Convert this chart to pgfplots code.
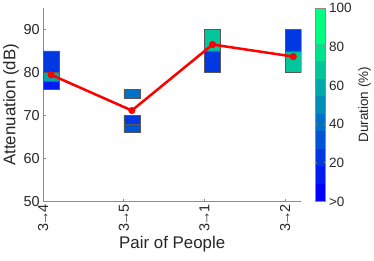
\documentclass[border=0pt]{standalone}
\usepackage{fontspec}
\setmainfont{Liberation Sans}
\usepackage{pgfplots}
\pgfplotsset{compat=1.18}
\definecolor{k0}{rgb}{0,0,1}
\definecolor{k1}{rgb}{0,0.1111,0.9444}
\definecolor{k2}{rgb}{0,0.2222,0.8889}
\definecolor{k3}{rgb}{0,0.3333,0.8333}
\definecolor{k4}{rgb}{0,0.4444,0.7778}
\definecolor{k5}{rgb}{0,0.5556,0.7222}
\definecolor{k6}{rgb}{0,0.6667,0.6667}
\definecolor{k7}{rgb}{0,0.7778,0.6111}
\definecolor{k8}{rgb}{0,0.8889,0.5556}
\definecolor{k9}{rgb}{0,1,0.5}
\definecolor{txt}{rgb}{0.15,0.15,0.15}
\definecolor{axc}{rgb}{0.55,0.55,0.55}
\definecolor{edge}{rgb}{0.35,0.35,0.35}
\newcommand\arr{\kern-1.8bp→\kern-1.8bp}
\pgfplotsset{
  colormap={winterd}{rgb=(0,0,1) rgb=(0,0.1111,0.9444) rgb=(0,0.2222,0.8889)
    rgb=(0,0.3333,0.8333) rgb=(0,0.4444,0.7778) rgb=(0,0.5556,0.7222)
    rgb=(0,0.6667,0.6667) rgb=(0,0.7778,0.6111) rgb=(0,0.8889,0.5556)
    rgb=(0,1,0.5) rgb=(0,1,0.5)},
  seg/.style={fill=#1, draw=edge, line width=0.5bp, mark=none, forget plot}
}
\begin{document}
\begin{tikzpicture}
\begin{axis}[
  name=main,
  scale only axis, width=267bp, height=200bp,
  xmin=1, xmax=4.2, ymin=50, ymax=95,
  axis x line*=bottom, axis y line*=left,
  axis line style={axc, line width=0.6bp, -},
  xtick={1,2,3,4},
  xticklabels={3\arr4,3\arr5,3\arr1,3\arr2},
  x tick label style={rotate=90, anchor=east},
  ytick={50,60,70,80,90},
  /pgf/number format/assume math mode=true,
  tick align=inside, major tick length=3bp,
  tick style={axc, line width=0.6bp},
  ticklabel style={font=\fontsize{15}{15}\selectfont, text=txt},
  label style={font=\fontsize{17.5}{17.5}\selectfont, text=txt},
  xlabel={Pair of People}, ylabel={Attenuation (dB)},
  xlabel style={yshift=2bp},
  ylabel style={yshift=-2bp},
  colorbar, colormap name=winterd, colormap access=piecewise constant,
  point meta min=0, point meta max=100,
  colorbar style={
    width=10.7bp, at={(main.north east)}, anchor=north west, xshift=6bp,
    /pgf/number format/assume math mode=true,
    ytick={0,20,40,60,80,100}, yticklabels={{>0},20,40,60,80,100},
    yticklabel style={font=\fontsize{14}{14}\selectfont, text=txt},
    ylabel={Duration (\%)},
    ylabel style={font=\fontsize{14}{14}\selectfont, text=txt},
    axis line style={axc, line width=0.6bp},
    tick style={axc, line width=0.6bp}, major tick length=2bp,
  },
]
% 3->4
\addplot[seg=k2] coordinates {(1,80) (1.2,80) (1.2,85) (1,85) (1,80)};
\addplot[seg=k6] coordinates {(1,78) (1.2,78) (1.2,80) (1,80) (1,78)};
\addplot[seg=k1] coordinates {(1,76) (1.2,76) (1.2,78) (1,78) (1,76)};
% 3->5
\addplot[seg=k4] coordinates {(2,74) (2.2,74) (2.2,76) (2,76) (2,74)};
\addplot[seg=k2] coordinates {(2,68) (2.2,68) (2.2,70) (2,70) (2,68)};
\addplot[seg=k3] coordinates {(2,66) (2.2,66) (2.2,68) (2,68) (2,66)};
% 3->1
\addplot[seg=k7] coordinates {(3,85) (3.2,85) (3.2,90) (3,90) (3,85)};
\addplot[seg=k2] coordinates {(3,80) (3.2,80) (3.2,85) (3,85) (3,80)};
% 3->2
\addplot[seg=k2] coordinates {(4,85) (4.2,85) (4.2,90) (4,90) (4,85)};
\addplot[seg=k7] coordinates {(4,80) (4.2,80) (4.2,85) (4,85) (4,80)};
% mean line
\addplot[red, line width=2.6bp, mark=*, mark size=3.4bp, mark options={fill=red, draw=red, line width=0.5bp}]
  coordinates {(1.1,79.45) (2.1,71.15) (3.1,86.5) (4.1,83.7)};
\end{axis}
\path (main.south west) ++(-42bp,-61bp) rectangle ++(374bp,266bp);
\end{tikzpicture}
\end{document}
